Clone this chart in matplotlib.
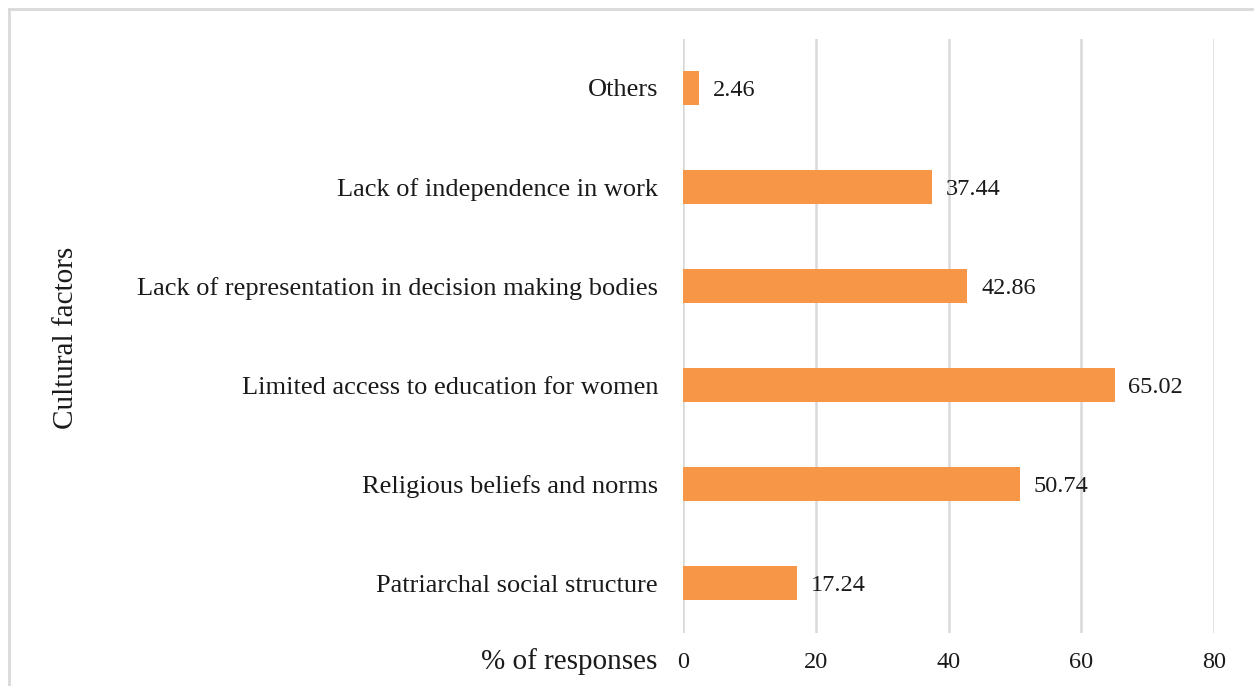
import matplotlib.pyplot as plt
from matplotlib.lines import Line2D

# data, bottom to top
factors = ["Patriarchal social structure",
           "Religious beliefs and norms",
           "Limited access to education for women",
           "Lack of representation in decision making bodies",
           "Lack of independence in work",
           "Others"]
percent = [17.24, 50.74, 65.02, 42.86, 37.44, 2.46]
xticks = [0, 20, 40, 60, 80]

plt.rcParams['font.family'] = ['Liberation Serif', 'DejaVu Serif']

W, H = 1254, 686
fig = plt.figure(figsize=(W / 100, H / 100), dpi=100)
ax = fig.add_axes([683 / W, 1 - 632.5 / H, (1214 - 683) / W, (632.5 - 38.5) / H])

ypos = range(len(factors))
ax.barh(ypos, percent, height=0.35, color='#F79646', zorder=3)
for y, v in zip(ypos, percent):
    ax.annotate(f"{v:.2f}", (v, y), xytext=(10, 0), textcoords='offset points',
                va='center_baseline', ha='left', fontsize=17.5, color='#1a1a1a')

ax.set_xlim(0, 80)
ax.set_ylim(-0.5, len(factors) - 0.5)
ax.set_xticks(xticks)
ax.set_yticks(list(ypos))
ax.set_yticklabels(factors)
ax.tick_params(axis='y', length=0, pad=18, labelsize=19, labelcolor='#1a1a1a')
ax.tick_params(axis='x', length=0, pad=14, labelsize=17.5, labelcolor='#1a1a1a')
ax.grid(axis='x', color='#d9d9d9', linewidth=1.8, zorder=0)
for s in ax.spines.values():
    s.set_visible(False)

ax.set_xlabel("% of responses", fontsize=21, ha='right', va='center', color='#1a1a1a')
ax.xaxis.set_label_coords(-0.048, (632.5 - 662) / 594)

fig.text(66 / W, 1 - 338 / H, "Cultural factors", rotation=90, fontsize=21,
         ha='center', va='center', color='#1a1a1a')

# light frame (left and top only visible)
bx, by = 9 / W, 1 - 9 / H
fig.add_artist(Line2D([bx, bx], [0, by], color='#d9d9d9', linewidth=2, transform=fig.transFigure))
fig.add_artist(Line2D([bx, 1], [by, by], color='#d9d9d9', linewidth=2, transform=fig.transFigure))

fig.savefig("out.png", dpi=100)
